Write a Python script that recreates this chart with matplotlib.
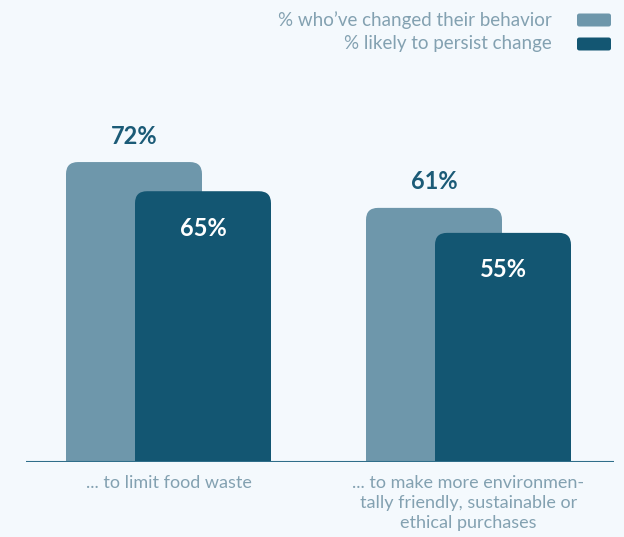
import matplotlib.pyplot as plt
from matplotlib.patches import FancyBboxPatch

categories = ["... to limit food waste",
              "... to make more environmen-\ntally friendly, sustainable or\nethical purchases"]
changed = [72, 61]
persist = [65, 55]
series_names = ["% who\u2019ve changed their behavior", "% likely to persist change"]

bg = "#f4f9fd"
light = "#6e97ab"
dark = "#135672"
grey_txt = "#83a1b1"

plt.rcParams['font.family'] = ['Lato', 'DejaVu Sans']

fig = plt.figure(figsize=(6.24, 5.37), dpi=100, facecolor=bg)
ax = fig.add_axes([26 / 624, 75 / 537, 588 / 624, 462 / 537])
ax.set_facecolor(bg)

px_x = 300.0            # pixels per category unit
px_y = 462 / 110.9      # pixels per percent
ax.set_xlim(-0.475, 1.485)
ax.set_ylim(0, 110.9)

width = 136 / px_x
offset = 34.5 / px_x
aspect = px_x / px_y


def rounded_bar(x, h, color):
    # round all corners, then let the axes clip the bottom ones away
    p = FancyBboxPatch((x - width / 2, -10), width, h + 10,
                       boxstyle="round,pad=0,rounding_size=%f" % (12 / px_x),
                       mutation_aspect=aspect, fc=color, ec="none", lw=0)
    ax.add_patch(p)


for i in range(len(categories)):
    rounded_bar(i - offset, changed[i], light)
    rounded_bar(i + offset, persist[i], dark)
    ax.text(i - offset, changed[i] + 26 / px_y, f"{changed[i]}%", ha="center", va="center",
            fontsize=17, fontweight="bold", color="#1b5b77")
    ax.text(i + offset, persist[i] - 37 / px_y, f"{persist[i]}%", ha="center", va="center",
            fontsize=17, fontweight="bold", color="white")
    ax.text(i, -13 / px_y, categories[i], ha="center", va="top", fontsize=13,
            fontweight="normal", color=grey_txt, linespacing=1.3)

ax.axhline(0, color="#2f6e8a", lw=1.5)
for s in ax.spines.values():
    s.set_visible(False)
ax.set_xticks([])
ax.set_yticks([])

# legend drawn by hand in figure pixels
for k, (name, col) in enumerate(zip(series_names, [light, dark])):
    y = 537 - (20 + 24 * k)
    fig.text(552 / 624, y / 537, name, ha="right", va="center", fontsize=13.5,
             fontweight="normal", color=grey_txt)
    fig.patches.append(FancyBboxPatch((577 / 624, (y - 6.5) / 537), 34 / 624, 13 / 537,
                                      boxstyle="round,pad=0,rounding_size=0.004",
                                      transform=fig.transFigure, fc=col, ec="none"))

fig.savefig("out.png", dpi=100, facecolor=bg)
